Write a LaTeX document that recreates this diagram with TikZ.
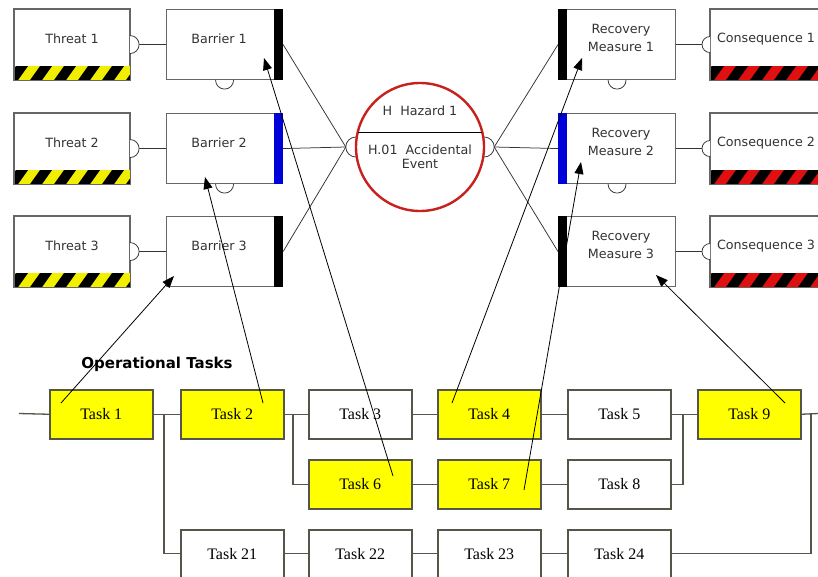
\documentclass[tikz,border=0pt]{standalone}
\usepackage{fontspec}
\setmainfont{Liberation Serif}
\newfontfamily\bowfont{DejaVu Sans}
\usetikzlibrary{arrows.meta,calc}

\definecolor{boxgray}{HTML}{666666}
\definecolor{taskgray}{HTML}{55554A}
\definecolor{bowtext}{HTML}{333333}
\definecolor{warnyellow}{HTML}{F2EE00}
\definecolor{warnred}{HTML}{E01010}
\definecolor{hazred}{HTML}{C8201C}
\definecolor{barblue}{HTML}{0000D8}
\definecolor{taskyellow}{HTML}{FFFF00}

% striped warning band along the bottom of a bow-tie box
\newcommand\hazstripes[2]{%
  \begin{scope}
    \clip ($(#1.south west)+(0,-14)$) rectangle (#1.south east);
    \fill[#2] ($(#1.south west)+(0,-14)$) rectangle (#1.south east);
    \foreach \i in {0,...,6}
      \fill[black] ($(#1.south west)+(\i*24-8,0)$) -- ++(12,0) -- ++(10,-14) -- ++(-12,0) -- cycle;
  \end{scope}
  \draw[boxgray,line width=1.1pt] (#1.north west) rectangle (#1.south east);
}

\begin{document}
\begin{tikzpicture}[x=1pt,y=-1pt,
  bowbox/.style={draw=boxgray,line width=1.1pt,fill=white,rectangle,
    minimum width=116pt,minimum height=70pt,inner sep=0pt,anchor=north west},
  bowlabel/.style={font=\bowfont\fontsize{12.7}{18}\selectfont,text=bowtext,align=center,inner sep=0pt},
  conn/.style={draw=black!80,line width=0.75pt},
  cup/.style={draw=black!80,line width=0.75pt,fill=white},
  taskbox/.style={draw=taskgray,line width=1.5pt,rectangle,minimum width=103pt,
    minimum height=49pt,inner sep=0pt,anchor=north west,font=\fontsize{16}{18}\selectfont},
  done/.style={taskbox,fill=taskyellow},
  open/.style={taskbox,fill=white},
  flow/.style={draw=taskgray,line width=1.3pt},
  link/.style={draw=black,line width=0.8pt,-{Triangle[length=12pt,width=9pt]}}]

\clip (0,0) rectangle (818,576);
\fill[white] (0,0) rectangle (818,576);

% ---------- bow-tie boxes ----------
\node[bowbox,minimum width=115pt] (thr1) at (14,9) {};
\node[bowbox,minimum width=115pt] (thr2) at (14,113) {};
\node[bowbox,minimum width=115pt] (thr3) at (14,216) {};
\node[bowbox] (bar1) at (166,9) {};
\node[bowbox] (bar2) at (166,113) {};
\node[bowbox] (bar3) at (166,216) {};
\node[bowbox,minimum width=117pt] (rec1) at (558,9) {};
\node[bowbox,minimum width=117pt] (rec2) at (558,113) {};
\node[bowbox,minimum width=117pt] (rec3) at (558,216) {};
\node[bowbox,minimum width=120pt] (con1) at (710,9) {};
\node[bowbox,minimum width=120pt] (con2) at (710,113) {};
\node[bowbox,minimum width=120pt] (con3) at (710,216) {};

\hazstripes{thr1}{warnyellow}
\hazstripes{thr2}{warnyellow}
\hazstripes{thr3}{warnyellow}
\hazstripes{con1}{warnred}
\hazstripes{con2}{warnred}
\hazstripes{con3}{warnred}

% barrier / recovery status bars
\fill[black]  (bar1.north east) rectangle ($(bar1.south east)+(-9,0)$);
\fill[barblue](bar2.north east) rectangle ($(bar2.south east)+(-9,0)$);
\fill[black]  (bar3.north east) rectangle ($(bar3.south east)+(-9,0)$);
\fill[black]  (rec1.north west) rectangle ($(rec1.south west)+(9,0)$);
\fill[barblue](rec2.north west) rectangle ($(rec2.south west)+(9,0)$);
\fill[black]  (rec3.north west) rectangle ($(rec3.south west)+(9,0)$);

% labels
\node[bowlabel] (thr1t) at (72,39) {Threat 1};
\node[bowlabel] (thr2t) at (72,143) {Threat 2};
\node[bowlabel] (thr3t) at (72,246) {Threat 3};
\node[bowlabel] (bar1t) at (219,39) {Barrier 1};
\node[bowlabel] (bar2t) at (219,143) {Barrier 2};
\node[bowlabel] (bar3t) at (219,246) {Barrier 3};
\node[bowlabel] (rec1t) at (621,38) {Recovery\\Measure 1};
\node[bowlabel] (rec2t) at (621,142) {Recovery\\Measure 2};
\node[bowlabel] (rec3t) at (621,245) {Recovery\\Measure 3};
\node[bowlabel] (con1t) at (766,39) {Consequence 1};
\node[bowlabel] (con2t) at (766,143) {Consequence 2};
\node[bowlabel] (con3t) at (766,246) {Consequence 3};

% threat -> barrier and recovery -> consequence links
\draw[conn] (thr1.east) -- (bar1.west);
\draw[conn] (thr2.east) -- (bar2.west);
\draw[conn] (thr3.east) -- (bar3.west);
\draw[conn] (rec1.east) -- (con1.west);
\draw[conn] (rec2.east) -- (con2.west);
\draw[conn] (rec3.east) -- (con3.west);
\foreach \n in {thr1,thr2,thr3}
  \draw[cup] ($(\n.east)+(0,-9)$) arc[start angle=-90,end angle=90,radius=9];
\foreach \n in {con1,con2,con3}
  \draw[cup] ($(\n.west)+(0,-8)$) arc[start angle=270,end angle=90,radius=8];
\foreach \n in {bar1,bar2,rec1,rec2}
  \draw[cup] ($(\n.south)+(-9,0)$) arc[start angle=180,end angle=0,radius=9];

% ---------- hazard / top event ----------
\node[circle,minimum size=128pt,inner sep=0pt] (haz) at (420,147) {};
\coordinate (hzin) at ($(haz.west)+(-10,0)$);
\coordinate (hzout) at ($(haz.east)+(10,0)$);
\draw[conn] (bar1.east) -- (hzin);
\draw[conn] (bar2.east) -- (hzin);
\draw[conn] (bar3.east) -- (hzin);
\draw[conn] (hzout) -- (rec1.west);
\draw[conn] (hzout) -- (rec2.west);
\draw[conn] (hzout) -- (rec3.west);
\draw[cup] ($(haz.west)+(0,-10)$) arc[start angle=270,end angle=90,radius=10];
\draw[cup] ($(haz.east)+(0,-10)$) arc[start angle=-90,end angle=90,radius=10];
\draw[hazred,line width=2.4pt,fill=white] (haz.center) circle[radius=64];
\draw[black,line width=0.8pt] ($(haz.center)+(-62,-15)$) -- ($(haz.center)+(62,-15)$);
\node[bowlabel] (hazt) at (420,111) {H\ \ Hazard 1};
\node[bowlabel,font=\bowfont\fontsize{12.7}{14}\selectfont] (evt) at (420,157) {H.01\ \ Accidental\\Event};

% ---------- operational tasks ----------
\node[font=\bowfont\bfseries\fontsize{15}{18}\selectfont,inner sep=0pt] (optitle) at (157,364) {Operational Tasks};

\node[done] (t1) at (49,389) {Task 1};
\node[done] (t2) at (180,389) {Task 2};
\node[open] (t3) at (308,389) {Task 3};
\node[done] (t4) at (437,389) {Task 4};
\node[open] (t5) at (567,389) {Task 5};
\node[done] (t9) at (697,389) {Task 9};
\node[done] (t6) at (308,459) {Task 6};
\node[done] (t7) at (437,459) {Task 7};
\node[open] (t8) at (567,459) {Task 8};
% bottom row runs off the lower edge
\node[open,minimum height=60pt,text depth=12pt] (t21) at (180,529) {Task 21};
\node[open,minimum height=60pt,text depth=12pt] (t22) at (308,529) {Task 22};
\node[open,minimum height=60pt,text depth=12pt] (t23) at (437,529) {Task 23};
\node[open,minimum height=60pt,text depth=12pt] (t24) at (567,529) {Task 24};

\coordinate (inL) at (19,413.5);
\coordinate (outR) at (818,413.5);
\coordinate (j1) at (164,413.5);
\coordinate (j2) at (293,413.5);
\coordinate (j3) at (683,413.5);
\coordinate (j4) at (811,413.5);
\coordinate (r3) at (0,553.5);

\draw[flow] (inL) -- (t1.west);
\draw[flow] (t1.east) -- (t2.west);
\draw[flow] (j1) |- (t21.west |- r3);
\draw[flow] (t2.east) -- (t3.west);
\draw[flow] (j2) |- (t6.west);
\draw[flow] (t3.east) -- (t4.west);
\draw[flow] (t4.east) -- (t5.west);
\draw[flow] (t5.east) -- (t9.west);
\draw[flow] (t6.east) -- (t7.west);
\draw[flow] (t7.east) -- (t8.west);
\draw[flow] (t8.east) -| (j3);
\draw[flow] (t21.east |- r3) -- (t22.west |- r3);
\draw[flow] (t22.east |- r3) -- (t23.west |- r3);
\draw[flow] (t23.east |- r3) -- (t24.west |- r3);
\draw[flow] (t9.east) -- (outR);
\draw[flow] (j4) |- (t24.east |- r3);

% ---------- task -> control links ----------
\coordinate (a1s) at (61,403);  \coordinate (a1e) at (174,276);
\coordinate (a2s) at (263,403); \coordinate (a2e) at (205,177);
\coordinate (a3s) at (393,476); \coordinate (a3e) at (264,58);
\coordinate (a4s) at (452,403); \coordinate (a4e) at (582,58);
\coordinate (a5s) at (524,490); \coordinate (a5e) at (581,162);
\coordinate (a6s) at (785,403); \coordinate (a6e) at (656,275);
\draw[link] (a1s) -- (a1e);
\draw[link] (a2s) -- (a2e);
\draw[link] (a3s) -- (a3e);
\draw[link] (a4s) -- (a4e);
\draw[link] (a5s) -- (a5e);
\draw[link] (a6s) -- (a6e);
\end{tikzpicture}
\end{document}
